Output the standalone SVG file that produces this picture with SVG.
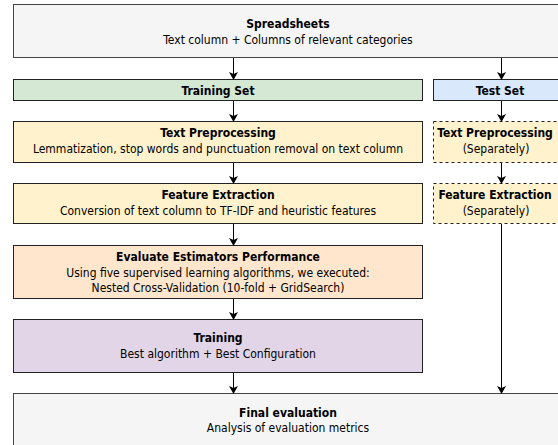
<svg xmlns="http://www.w3.org/2000/svg" width="558" height="445" viewBox="0 0 558 445">
<defs>
<marker id="ah" markerWidth="8" markerHeight="9" refX="7" refY="4.5" orient="auto" markerUnits="userSpaceOnUse">
<path d="M0,0 L8,4.5 L0,9 L2,4.5 Z" fill="#000"/>
</marker>
<style>
text{font-family:"DejaVu Sans Condensed","DejaVu Sans",Tahoma,sans-serif;font-size:12px;fill:#000;text-anchor:middle}
.b{font-weight:bold}
.box{stroke:#222;stroke-width:1}
.gray{fill:#f5f5f5;stroke:#444;stroke-width:1}
.green{fill:#d5e8d4}
.blue{fill:#dae8fc}
.yellow{fill:#fff2cc}
.orange{fill:#ffe6cc}
.purple{fill:#e1d5e7}
.dash{fill:#fff2cc;stroke:#222;stroke-width:1;stroke-dasharray:3,3}
.edge{stroke:#000;stroke-width:1;fill:none;marker-end:url(#ah)}
</style>
</defs>
<rect width="558" height="445" fill="#fff"/>
<g id="spreadsheets">
<rect class="gray" x="13.5" y="4.5" width="560" height="53"/>
<text class="b" x="288" y="28">Spreadsheets</text>
<text x="288" y="44">Text column + Columns of relevant categories</text>
</g>
<g id="training-set">
<rect class="box green" x="13.5" y="79.5" width="409" height="21"/>
<text class="b" x="218" y="94.5">Training Set</text>
</g>
<g id="test-set">
<rect class="box blue" x="433.5" y="79.5" width="134" height="21"/>
<text class="b" x="500" y="94.5">Test Set</text>
</g>
<g id="text-preprocessing">
<rect class="box yellow" x="13.5" y="121.5" width="409" height="41"/>
<text class="b" x="218" y="137">Text Preprocessing</text>
<text x="218" y="153">Lemmatization, stop words and punctuation removal on text column</text>
</g>
<g id="feature-extraction">
<rect class="box yellow" x="13.5" y="183.5" width="409" height="40"/>
<text class="b" x="218" y="199">Feature Extraction</text>
<text x="218" y="215">Conversion of text column to TF-IDF and heuristic features</text>
</g>
<g id="test-text-preprocessing">
<rect class="dash" x="433.5" y="121.5" width="134" height="41"/>
<text class="b" x="495" y="137">Text Preprocessing</text>
<text x="496" y="153">(Separately)</text>
</g>
<g id="test-feature-extraction">
<rect class="dash" x="433.5" y="183.5" width="134" height="40"/>
<text class="b" x="495" y="199">Feature Extraction</text>
<text x="496" y="215">(Separately)</text>
</g>
<g id="evaluate">
<rect class="box orange" x="13.5" y="245.5" width="409" height="53"/>
<text class="b" x="218" y="261">Evaluate Estimators Performance</text>
<text x="218" y="276.5">Using five supervised learning algorithms, we executed:</text>
<text x="218" y="292">Nested Cross-Validation (10-fold + GridSearch)</text>
</g>
<g id="training">
<rect class="box purple" x="13.5" y="319.5" width="409" height="53"/>
<text class="b" x="218" y="342">Training</text>
<text x="218" y="358">Best algorithm + Best Configuration</text>
</g>
<g id="final-evaluation">
<rect class="gray" x="13.5" y="393.5" width="560" height="60"/>
<text class="b" x="288" y="417">Final evaluation</text>
<text x="288" y="432">Analysis of evaluation metrics</text>
</g>
<g id="connectors">
<line class="edge" x1="233.5" y1="58" x2="233.5" y2="79"/>
<line class="edge" x1="501.5" y1="58" x2="501.5" y2="79"/>
<line class="edge" x1="233.5" y1="101" x2="233.5" y2="121"/>
<line class="edge" x1="501.5" y1="101" x2="501.5" y2="121"/>
<line class="edge" x1="233.5" y1="163" x2="233.5" y2="183"/>
<line class="edge" x1="501.5" y1="163" x2="501.5" y2="183"/>
<line class="edge" x1="233.5" y1="224" x2="233.5" y2="245"/>
<line class="edge" x1="233.5" y1="299" x2="233.5" y2="319"/>
<line class="edge" x1="233.5" y1="373" x2="233.5" y2="393"/>
<line class="edge" x1="501.5" y1="224" x2="501.5" y2="393"/>
</g>
</svg>
